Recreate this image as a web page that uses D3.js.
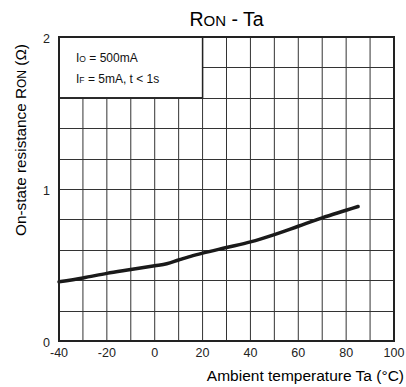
<!DOCTYPE html>
<html>
<head>
<meta charset="utf-8">
<script src="https://cdn.jsdelivr.net/npm/d3@7"></script>
<style>
body { margin: 0; background: #fff; }
svg { font-family: "Liberation Sans", Arial, sans-serif; }
</style>
</head>
<body>
<svg id="chart" width="406" height="387"></svg>
<script>
// curve
const temps = [-40, -30, -20, -10, 0, 5, 10, 15, 20, 30, 40, 50, 60, 70, 80, 85];
const ron = [0.39, 0.415, 0.445, 0.47, 0.495, 0.508, 0.533, 0.557, 0.578, 0.615, 0.652, 0.70, 0.755, 0.81, 0.86, 0.885];

const xTicks = [-40, -20, 0, 20, 40, 60, 80, 100];
const yTicks = [0, 1, 2];

const margin = { top: 37, right: 12, bottom: 46, left: 59 };
const width = 406 - margin.left - margin.right;
const height = 387 - margin.top - margin.bottom;

const svg = d3.select("#chart");
const g = svg.append("g")
	.attr("transform", "translate(" + margin.left + "," + margin.top + ")");

const x = d3.scaleLinear().domain([-40, 100]).range([0, width]);
const y = d3.scaleLinear().domain([0, 2]).range([height, 0]);

// grid
g.append("g")
	.selectAll("line")
	.data(d3.range(-30, 100, 10))
	.enter()
	.append("line")
	.attr("x1", d => x(d)).attr("x2", d => x(d))
	.attr("y1", 0).attr("y2", height)
	.attr("stroke", "#333")
	.attr("stroke-width", 1);

g.append("g")
	.selectAll("line")
	.data(d3.range(0.2, 2, 0.2))
	.enter()
	.append("line")
	.attr("x1", 0).attr("x2", width)
	.attr("y1", d => Math.round(y(d)) + 0.5).attr("y2", d => Math.round(y(d)) + 0.5)
	.attr("stroke", "#333")
	.attr("stroke-width", 1);

// condition box hides the grid behind it
g.append("rect")
	.attr("x", x(-40))
	.attr("y", y(2))
	.attr("width", x(20) - x(-40))
	.attr("height", y(1.6) - y(2))
	.attr("fill", "#fff")
	.attr("stroke", "#222")
	.attr("stroke-width", 1.5);

const cond = g.append("g").attr("font-size", 12).attr("fill", "#111");
const t1 = cond.append("text").attr("x", 17).attr("y", 25);
t1.append("tspan").text("I");
t1.append("tspan").attr("font-size", 8.5).text("O");
t1.append("tspan").text(" = 500mA");
const t2 = cond.append("text").attr("x", 17).attr("y", 46);
t2.append("tspan").text("I");
t2.append("tspan").attr("font-size", 8.5).text("F");
t2.append("tspan").text(" = 5mA, t < 1s");

// curve
g.append("path")
	.datum(temps.map((t, i) => [t, ron[i]]))
	.attr("fill", "none")
	.attr("stroke", "#1a1a1a")
	.attr("stroke-width", 3.5)
	.attr("stroke-linecap", "round")
	.attr("d", d3.line().x(d => x(d[0])).y(d => y(d[1])).curve(d3.curveMonotoneX));

// frame
g.append("rect")
	.attr("width", width)
	.attr("height", height)
	.attr("fill", "none")
	.attr("stroke", "#222")
	.attr("stroke-width", 2);

// tick labels
g.append("g")
	.selectAll("text")
	.data(xTicks)
	.enter()
	.append("text")
	.attr("x", d => x(d))
	.attr("y", height + 16)
	.attr("text-anchor", "middle")
	.attr("font-size", 12.5)
	.attr("fill", "#222")
	.text(d => d);

g.append("g")
	.selectAll("text")
	.data(yTicks)
	.enter()
	.append("text")
	.attr("x", -9)
	.attr("y", d => y(d) + 6)
	.attr("text-anchor", "end")
	.attr("font-size", 12.5)
	.attr("fill", "#222")
	.text(d => d);

// title
const title = svg.append("text")
	.attr("x", margin.left + width / 2)
	.attr("y", 26)
	.attr("text-anchor", "middle")
	.attr("font-size", 19.5);
title.append("tspan").text("R");
title.append("tspan").attr("font-size", 15).text("ON");
title.append("tspan").text(" - Ta");

// axis labels
svg.append("text")
	.attr("x", 404)
	.attr("y", 381)
	.attr("text-anchor", "end")
	.attr("font-size", 15.5)
	.text("Ambient temperature Ta (°C)");

const yl = svg.append("text")
	.attr("transform", "translate(26,140) rotate(-90)")
	.attr("text-anchor", "middle")
	.attr("font-size", 15.3);
yl.append("tspan").text("On-state resistance R");
yl.append("tspan").attr("font-size", 12).text("ON");
yl.append("tspan").text(" (Ω)");
</script>
</body>
</html>
